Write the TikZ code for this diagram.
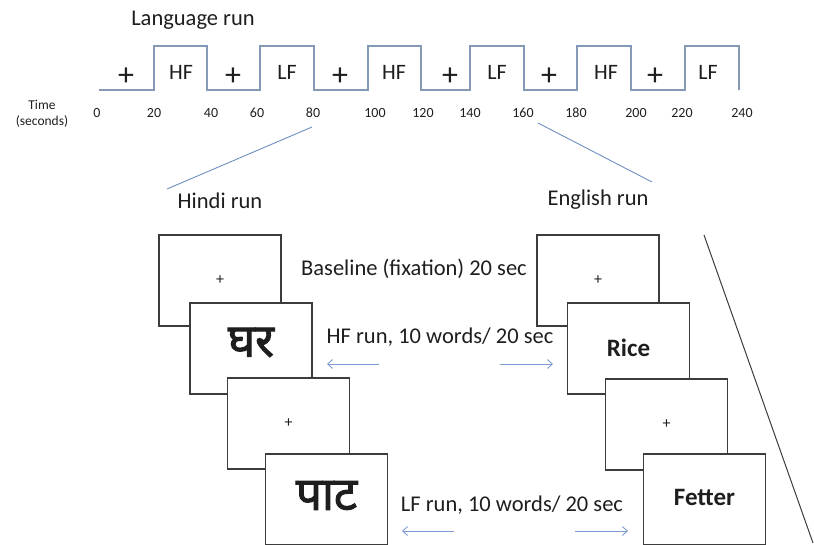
\documentclass[tikz,border=0pt]{standalone}
\usepackage{fontspec}
\setmainfont{Carlito}
\newfontfamily\deva[Script=Devanagari,FakeBold=2.2]{Noto Sans}
\usetikzlibrary{arrows.meta}
\definecolor{stepcol}{HTML}{8499B6}
\definecolor{linkcol}{HTML}{6E8EC2}
\definecolor{arrcol}{HTML}{7D9BCF}
\definecolor{boxcol}{HTML}{3C3C3C}
\definecolor{txtcol}{HTML}{1E1E1E}
\begin{document}
\begin{tikzpicture}[x=1pt,y=-1pt,
  every node/.style={text=txtcol,inner sep=0pt},
  steptrace/.style={draw=stepcol,line width=1.2pt},
  lowlbl/.style={font=\fontsize{32}{32}\selectfont},
  highlbl/.style={font=\fontsize{22}{22}\selectfont},
  tick/.style={font=\fontsize{14}{14}\selectfont},
  title/.style={font=\fontsize{22.5}{24}\selectfont},
  link/.style={draw=linkcol,line width=0.9pt},
  screen/.style={draw=boxcol,line width=1.2pt,fill=white,minimum width=122pt,minimum height=91pt},
  fix/.style={font=\fontsize{16}{16}\selectfont},
  devword/.style={font=\deva\fontsize{46}{46}\selectfont},
  engword/.style={font=\bfseries\fontsize{25}{25}\selectfont},
  flow/.style={draw=arrcol,line width=0.9pt,-{Straight Barb[length=5pt,width=9pt]}}]
\useasboundingbox (0,0) rectangle (814,544);
\clip (0,0) rectangle (814,544);

% block design time course
\node[title] (lang) at (193,20) {Language run};
\draw[steptrace] (99,90) -- (154,90) -- (154,46) -- (207,46) -- (207,90) -- (260,90)
  -- (260,46) -- (314,46) -- (314,90) -- (368,90) -- (368,46) -- (421,46) -- (421,90)
  -- (470,90) -- (470,46) -- (524,46) -- (524,90) -- (577,90) -- (577,46) -- (631,46)
  -- (631,90) -- (685,90) -- (685,46) -- (739,46) -- (739,90);
\foreach \x/\n in {126/p1,233/p2,340/p3,450/p4,549/p5,655/p6}
  \node[lowlbl] (\n) at (\x,77) {+};
\node[highlbl] (h1) at (181,72) {HF};
\node[highlbl] (l1) at (287,72) {LF};
\node[highlbl] (h2) at (394,72) {HF};
\node[highlbl] (l2) at (497,72) {LF};
\node[highlbl] (h3) at (606,72) {HF};
\node[highlbl] (l3) at (708,72) {LF};

\node[align=center,font=\fontsize{13.5}{16}\selectfont] (timelbl) at (42,114) {Time\\(seconds)};
\foreach \x/\v in {97/0,154/20,211/40,257/60,313/80,375/100,423/120,470/140,523/160,576/180,636/200,682/220,742/240}
  \node[tick] (t\v) at (\x,113) {\v};

% the two language runs
\node[title] (hindi) at (220,201) {Hindi run};
\node[title] (english) at (598,200) {English run};
\coordinate (hhead) at (312,127);
\coordinate (hfoot) at (167,189);
\coordinate (ehead) at (538,123);
\coordinate (efoot) at (652,182);
\draw[link] (hhead) -- (hfoot);
\draw[link] (ehead) -- (efoot);

% Hindi screens
\node[screen] (hb1) at (220,280.5) {};
\node[fix] at (hb1.center) {+};
\node[screen] (hb2) at (251,348.5) {};
\node[devword] at ([yshift=6pt]hb2.center) {घर};
\node[screen] (hb3) at (288.5,423.5) {};
\node[fix] at (hb3.center) {+};
\node[screen] (hb4) at (326.5,499.5) {};
\node[devword] at ([yshift=4pt]hb4.center) {पाट};

% English screens
\node[screen] (eb1) at (598,280.5) {};
\node[fix] at (eb1.center) {+};
\node[screen] (eb2) at (628.5,348.5) {};
\node[engword] at ([yshift=1pt]eb2.center) {Rice};
\node[screen] (eb3) at (666.5,424.5) {};
\node[fix] at (eb3.center) {+};
\node[screen] (eb4) at (704.5,499.5) {};
\node[engword] at ([yshift=2pt]eb4.center) {Fetter};

% condition labels and arrows
\node[title] (base) at (414,269) {Baseline (fixation) 20 sec};
\node[title] (hfrun) at (440,337) {HF run, 10 words/ 20 sec};
\node[title] (lfrun) at (512,505) {LF run, 10 words/ 20 sec};
\coordinate (hfl0) at (379,364); \coordinate (hfl1) at (327,364);
\coordinate (hfr0) at (500,364); \coordinate (hfr1) at (553,364);
\coordinate (lfl0) at (454,531); \coordinate (lfl1) at (402,531);
\coordinate (lfr0) at (575,531); \coordinate (lfr1) at (628,531);
\draw[flow] (hfl0) -- (hfl1);
\draw[flow] (hfr0) -- (hfr1);
\draw[flow] (lfl0) -- (lfl1);
\draw[flow] (lfr0) -- (lfr1);

% time axis running down the page
\coordinate (ax0) at (704,235);
\coordinate (ax1) at (813,543);
\draw[draw=boxcol,line width=1pt] (ax0) -- (ax1);
\end{tikzpicture}
\end{document}
